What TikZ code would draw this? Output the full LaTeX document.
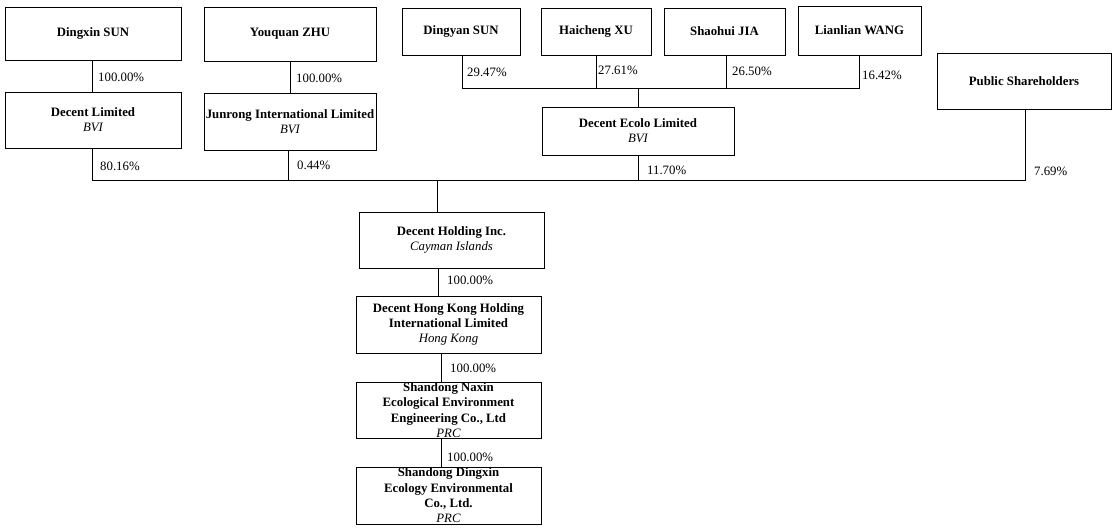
\documentclass[tikz,border=0pt]{standalone}
\usepackage{fontspec}
\setmainfont{Liberation Serif}
\newcommand{\orgbox}[3]{\parbox[c][#2][c]{#1}{\centering\fontsize{12.8}{15.3}\selectfont\bfseries #3}}
\begin{document}
\begin{tikzpicture}[x=1pt,y=-1pt,
  ent/.style={draw, line width=0.8pt, inner sep=0pt, outer sep=0pt},
  pct/.style={anchor=west, inner sep=0pt, font=\fontsize{12.8}{15}\selectfont},
  lnk/.style={line width=0.8pt}]
\useasboundingbox (0,0) rectangle (1116,532);
% top row
\node[ent] (dsun) at (93,33.5) {\orgbox{176pt}{53pt}{Dingxin SUN}};
\node[ent] (yzhu) at (290,34) {\orgbox{172pt}{54pt}{Youquan ZHU}};
\node[ent] (dysun) at (461,31.5) {\orgbox{118pt}{47pt}{Dingyan SUN}};
\node[ent] (hxu) at (596,31.5) {\orgbox{110pt}{47pt}{Haicheng XU}};
\node[ent] (sjia) at (724.5,31.5) {\orgbox{121pt}{47pt}{Shaohui JIA}};
\node[ent] (lwang) at (859.5,30.5) {\orgbox{123pt}{49pt}{Lianlian WANG}};
% second row
\node[ent] (dlim) at (93,120) {\orgbox{176pt}{56pt}{Decent Limited\\\normalfont\itshape BVI}};
\node[ent] (junr) at (290,121.5) {\orgbox{172pt}{57pt}{Junrong International Limited\\\normalfont\itshape BVI}};
\node[ent] (ecolo) at (638,131) {\orgbox{192pt}{48pt}{Decent Ecolo Limited\\\normalfont\itshape BVI}};
\node[ent] (pub) at (1024,81) {\orgbox{174pt}{56pt}{Public Shareholders}};
% chain
\node[ent] (dhold) at (451.5,240) {\orgbox{185pt}{56pt}{Decent Holding Inc.\\\normalfont\itshape Cayman Islands}};
\node[ent] (dhk) at (448.5,324.5) {\orgbox{185pt}{57pt}{Decent Hong Kong Holding\\International Limited\\\normalfont\itshape Hong Kong}};
\node[ent] (naxin) at (448.5,410) {\orgbox{185pt}{56pt}{Shandong Naxin\\Ecological Environment\\Engineering Co., Ltd\\\normalfont\itshape PRC}};
\node[ent] (dingx) at (448.5,495.5) {\orgbox{185pt}{57pt}{Shandong Dingxin\\Ecology Environmental\\Co., Ltd.\\\normalfont\itshape PRC}};
% junction coordinates
\coordinate (hA) at (92,180.5);
\coordinate (hB) at (1025,180.5);
\coordinate (uA) at (462,88.5);
\coordinate (uB) at (859,88.5);
\coordinate (xmain) at (437,0);
\coordinate (xjun) at (288,0);
\coordinate (xhk) at (438,0);
\coordinate (xnx) at (441,0);
\coordinate (xdy) at (462,0);
\coordinate (xsj) at (726,0);
% connectors
\draw[lnk] (dsun.south -| hA) -- (dlim.north -| hA);
\draw[lnk] (yzhu.south) -- (junr.north);
\draw[lnk] (dlim.south -| hA) -- (hA) -- (hB) -- (pub.south -| hB);
\draw[lnk] (junr.south -| xjun) -- (hA -| xjun);
\draw[lnk] (ecolo.south) -- (hA -| ecolo.south);
\draw[lnk] (dysun.south -| xdy) -- (uA) -- (uB) -- (lwang.south -| uB);
\draw[lnk] (hxu.south) -- (uA -| hxu.south);
\draw[lnk] (sjia.south -| xsj) -- (uA -| xsj);
\draw[lnk] (uA -| ecolo.north) -- (ecolo.north);
\draw[lnk] (hA -| xmain) -- (dhold.north -| xmain);
\draw[lnk] (dhold.south -| xhk) -- (dhk.north -| xhk);
\draw[lnk] (dhk.south -| xnx) -- (naxin.north -| xnx);
\draw[lnk] (naxin.south -| xnx) -- (dingx.north -| xnx);
% labels
\node[pct] (p1) at (98,77) {100.00\%};
\node[pct] (p2) at (296,78) {100.00\%};
\node[pct] (p3) at (100,166) {80.16\%};
\node[pct] (p4) at (297,165) {0.44\%};
\node[pct] (p5) at (467,72) {29.47\%};
\node[pct] (p6) at (598,70) {27.61\%};
\node[pct] (p7) at (732,71) {26.50\%};
\node[pct] (p8) at (862,75) {16.42\%};
\node[pct] (p9) at (647,170) {11.70\%};
\node[pct] (p10) at (1034,171) {7.69\%};
\node[pct] (p11) at (447,280) {100.00\%};
\node[pct] (p12) at (450,368) {100.00\%};
\node[pct] (p13) at (447,457) {100.00\%};
\end{tikzpicture}
\end{document}
